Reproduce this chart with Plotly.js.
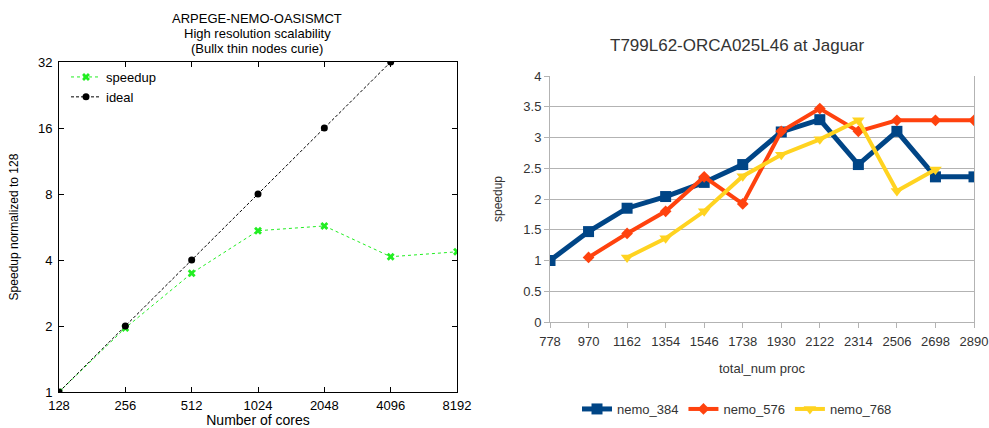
<!DOCTYPE html>
<html>
<head>
<meta charset="utf-8">
<script src="https://cdn.plot.ly/plotly-3.0.1.min.js"></script>
<style>html,body{margin:0;padding:0;background:#fff;}#chart{width:989px;height:428px;}</style>
</head>
<body>
<div id="chart"></div>
<script>
// Left chart data
const cores = [128, 256, 512, 1024, 2048, 4096, 8192];
const speedup = [1, 1.96, 3.48, 5.44, 5.72, 4.14, 4.36];
const idealCores = [128, 256, 512, 1024, 2048, 4096];
const ideal = [1, 2, 4, 8, 16, 32];
const coreTicks = ['128', '256', '512', '1024', '2048', '4096', '8192'];
const speedTicks = [1, 2, 4, 8, 16, 32];
const leftTitleLines = ['ARPEGE-NEMO-OASISMCT', 'High resolution scalability', '(Bullx thin nodes curie)'];

// Right chart data
const procs = [778, 970, 1162, 1354, 1546, 1738, 1930, 2122, 2314, 2506, 2698, 2890];
const nemo384 = [1.0, 1.47, 1.85, 2.04, 2.27, 2.56, 3.09, 3.29, 2.56, 3.10, 2.36, 2.36];
const nemo576 = [null, 1.05, 1.44, 1.80, 2.36, 1.92, 3.10, 3.47, 3.10, 3.28, 3.28, 3.28];
const nemo768 = [null, null, 1.05, 1.36, 1.80, 2.37, 2.72, 2.97, 3.28, 2.13, 2.48, null];

const W = 989, H = 428;
const px = v => v / W;
const py = v => (H - v) / H;
const FAM = 'Liberation Sans, Arial, sans-serif';

const traces = [
  {x: cores, y: speedup, name: 'speedup', type: 'scatter', mode: 'lines+markers',
   line: {color: '#22ee22', width: 1, dash: 'dot'},
   marker: {symbol: 'x', size: 7, color: '#22ee22'},
   xaxis: 'x', yaxis: 'y', legend: 'legend'},
  {x: idealCores, y: ideal, name: 'ideal', type: 'scatter', mode: 'lines+markers',
   line: {color: '#000000', width: 1, dash: '3px,2px'},
   marker: {symbol: 'circle', size: 7, color: '#000000'},
   xaxis: 'x', yaxis: 'y', legend: 'legend'},
  {x: procs, y: nemo384, name: 'nemo_384', type: 'scatter', mode: 'lines+markers',
   line: {color: '#004586', width: 5}, marker: {symbol: 'square', size: 11, color: '#004586'},
   xaxis: 'x2', yaxis: 'y2', legend: 'legend2'},
  {x: procs, y: nemo576, name: 'nemo_576', type: 'scatter', mode: 'lines+markers',
   line: {color: '#ff420e', width: 4}, marker: {symbol: 'diamond', size: 9, color: '#ff420e'},
   xaxis: 'x2', yaxis: 'y2', legend: 'legend2'},
  {x: procs, y: nemo768, name: 'nemo_768', type: 'scatter', mode: 'lines+markers',
   line: {color: '#ffd320', width: 4}, marker: {symbol: 'triangle-down', size: 11, color: '#ffd320'},
   xaxis: 'x2', yaxis: 'y2', legend: 'legend2'}
];

const leftFont = {family: FAM, size: 13, color: '#000'};
const rightFont = {family: FAM, size: 13, color: '#333'};

const titleY = [18.5, 33.5, 48.5];
const annotations = leftTitleLines.map((t, i) => ({
  text: t, xref: 'paper', yref: 'paper', x: px(257), y: py(titleY[i]),
  xanchor: 'center', yanchor: 'middle', showarrow: false, borderpad: 0,
  font: {family: FAM, size: 13, color: '#000'}
}));
annotations.push({text: 'T799L62-ORCA025L46 at Jaguar',
  xref: 'paper', yref: 'paper', x: px(737), y: py(45), xanchor: 'center', yanchor: 'middle',
  showarrow: false, font: {family: FAM, size: 17, color: '#333'}});

const layout = {
  width: W, height: H,
  margin: {l: 0, r: 0, t: 0, b: 0},
  paper_bgcolor: '#fff', plot_bgcolor: '#fff',
  showlegend: true,
  xaxis: {
    domain: [px(59), px(457)], anchor: 'y', type: 'log',
    range: [Math.log10(128), Math.log10(8192)],
    tickmode: 'array', tickvals: cores, ticktext: coreTicks,
    ticks: 'inside', ticklen: 5, tickcolor: '#000', ticklabelstandoff: 1,
    showline: true, linecolor: '#000', linewidth: 1, mirror: 'ticks',
    showgrid: false, zeroline: false, tickfont: leftFont,
    title: {text: 'Number of cores', font: {family: FAM, size: 14, color: '#000'}, standoff: 8}
  },
  yaxis: {
    domain: [py(392), py(62)], anchor: 'x', type: 'log',
    range: [0, Math.log10(32)],
    tickmode: 'array', tickvals: speedTicks, ticktext: speedTicks.map(String),
    ticks: 'inside', ticklen: 5, tickcolor: '#000', ticklabelstandoff: 3,
    showline: true, linecolor: '#000', linewidth: 1, mirror: 'ticks',
    showgrid: false, zeroline: false, tickfont: leftFont,
    title: {text: 'Speedup normalized to 128', font: {family: FAM, size: 12, color: '#000'}, standoff: 16}
  },
  xaxis2: {
    domain: [px(550), px(974)], anchor: 'y2',
    range: [778, 2890],
    tickmode: 'array', tickvals: procs, ticktext: procs.map(String),
    ticks: 'outside', ticklen: 5, tickcolor: '#b3b3b3', ticklabelstandoff: 2,
    showline: true, linecolor: '#b3b3b3', linewidth: 1,
    showgrid: false, zeroline: false, tickfont: rightFont,
    title: {text: 'total_num proc', font: {family: FAM, size: 13, color: '#333'}, standoff: 16}
  },
  yaxis2: {
    domain: [py(322), py(76)], anchor: 'x2',
    range: [0, 4], dtick: 0.5,
    ticks: 'outside', ticklen: 5, tickcolor: '#b3b3b3',
    showline: true, linecolor: '#b3b3b3', linewidth: 1, mirror: true,
    showgrid: true, gridcolor: '#b3b3b3', gridwidth: 1, zeroline: false,
    tickfont: rightFont,
    title: {text: 'speedup', font: {family: FAM, size: 12, color: '#333'}, standoff: 18}
  },
  legend: {
    x: px(66), y: py(62), xanchor: 'left', yanchor: 'top',
    bgcolor: 'rgba(0,0,0,0)', font: {family: FAM, size: 13, color: '#000'},
    tracegroupgap: 0
  },
  legend2: {
    orientation: 'h', x: px(737), y: py(409), xanchor: 'center', yanchor: 'middle',
    bgcolor: 'rgba(0,0,0,0)', font: {family: FAM, size: 13, color: '#333'}
  },
  annotations: annotations
};

Plotly.newPlot('chart', traces, layout, {displayModeBar: false, staticPlot: true});
</script>
</body>
</html>
